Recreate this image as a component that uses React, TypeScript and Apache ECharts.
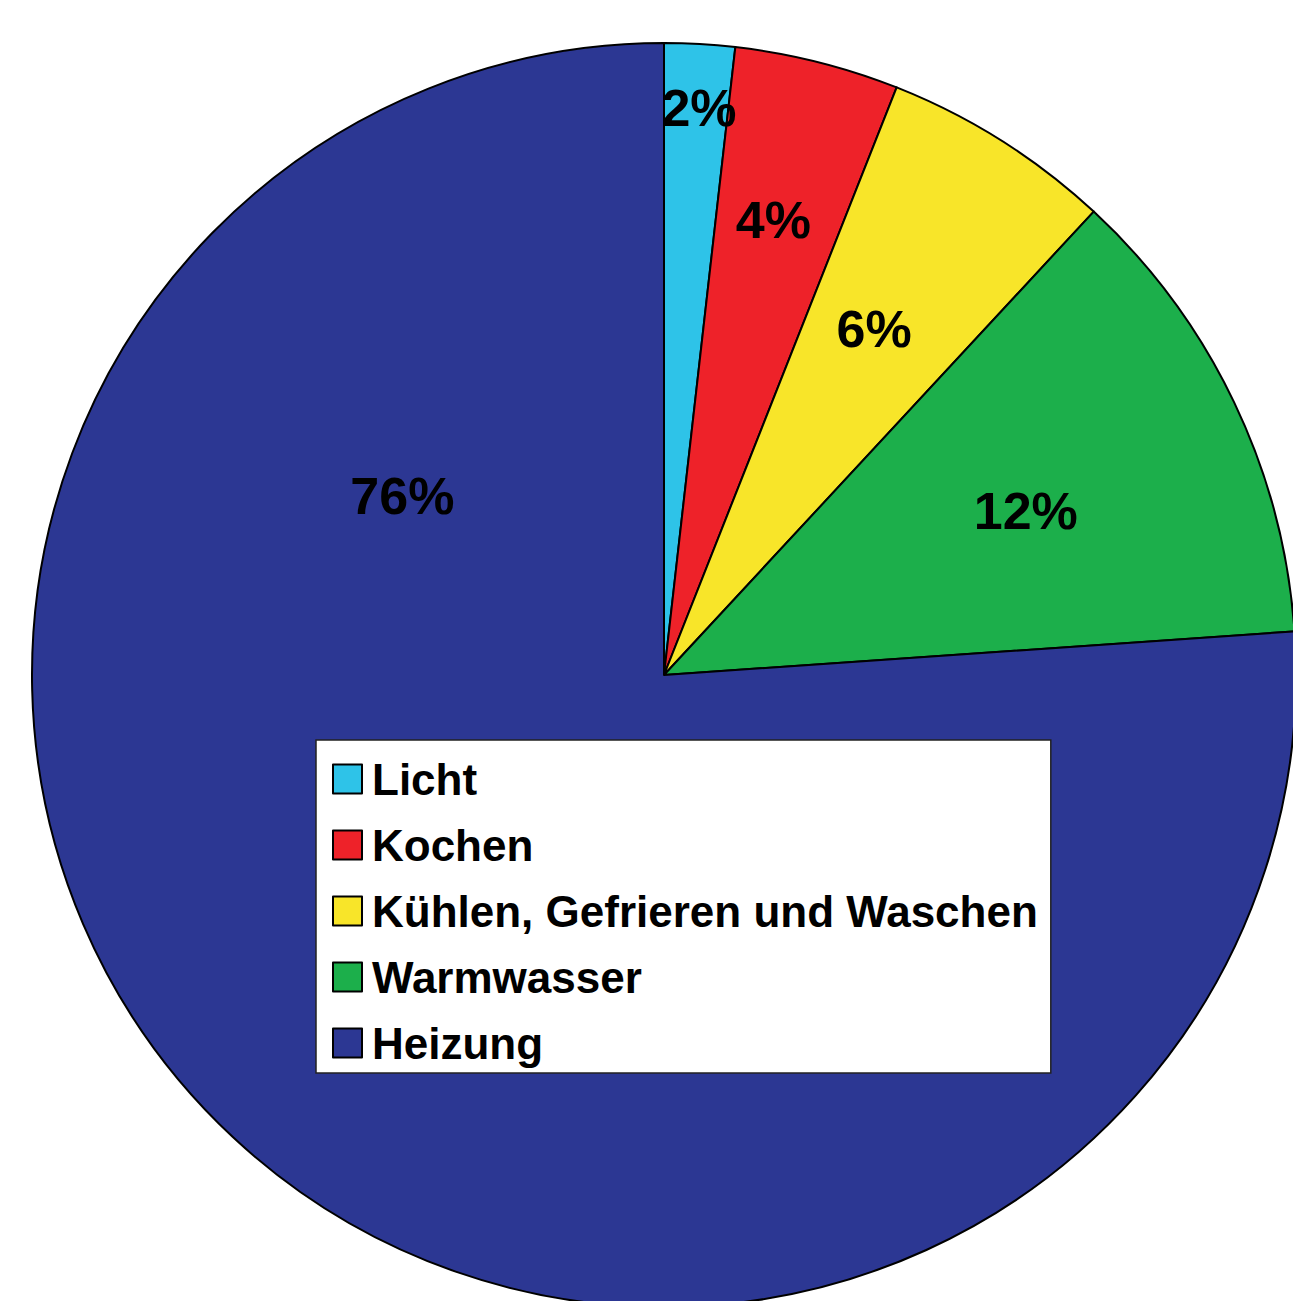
import React, { useEffect, useRef } from "react";
import * as echarts from "echarts";

const categories = ["Licht", "Kochen", "Kühlen, Gefrieren und Waschen", "Warmwasser", "Heizung"];
const values = [1.8, 4.2, 5.9, 12.0, 76.1];
const colors = ["#2EC3E8", "#EE2229", "#F8E529", "#1CAF4B", "#2C3793"];
// label nudges relative to ECharts' "inside" label anchor
const labelShift: [number, number][] = [
  [17, -249],
  [32, -146],
  [40, -76],
  [74, -26],
  [-44, -412],
];

export default function App() {
  const ref = useRef<HTMLDivElement>(null);
  useEffect(() => {
    document.body.style.margin = "0";
    const chart = echarts.init(ref.current!, null, { renderer: "svg" });
    chart.setOption({
      animation: false,
      backgroundColor: "#ffffff",
      legend: {
        orient: "vertical",
        left: 316,
        top: 740,
        data: categories,
        icon: "rect",
        itemWidth: 29,
        itemHeight: 29,
        itemGap: 20,
        selectedMode: false,
        backgroundColor: "#ffffff",
        borderColor: "#222222",
        borderWidth: 1.5,
        padding: [16, 13, 7, 16],
        itemStyle: { borderColor: "#000000", borderWidth: 2 },
        textStyle: {
          fontFamily: "Liberation Sans, Arial, sans-serif",
          fontWeight: "bold",
          fontSize: 44,
          lineHeight: 46,
          color: "#000000",
          padding: [0, 0, 0, 5],
        },
      },
      series: [
        {
          type: "pie",
          center: [664, 675],
          radius: 632,
          startAngle: 90,
          clockwise: true,
          avoidLabelOverlap: false,
          data: categories.map((name, i) => ({
            name,
            value: values[i],
            itemStyle: { color: colors[i] },
          })),
          itemStyle: { borderColor: "#000000", borderWidth: 2 },
          label: {
            show: true,
            position: "inside",
            formatter: (p: any) => Math.round(p.value) + "%",
            fontFamily: "Liberation Sans, Arial, sans-serif",
            fontWeight: "bold",
            fontSize: 52,
            color: "#000000",
          },
          labelLine: { show: false },
          labelLayout: (p: any) => ({
            dx: labelShift[p.dataIndex][0],
            dy: labelShift[p.dataIndex][1],
          }),
          emphasis: { disabled: true },
        },
      ],
    });
    return () => chart.dispose();
  }, []);
  return <div ref={ref} style={{ width: 1293, height: 1301 }} />;
}
